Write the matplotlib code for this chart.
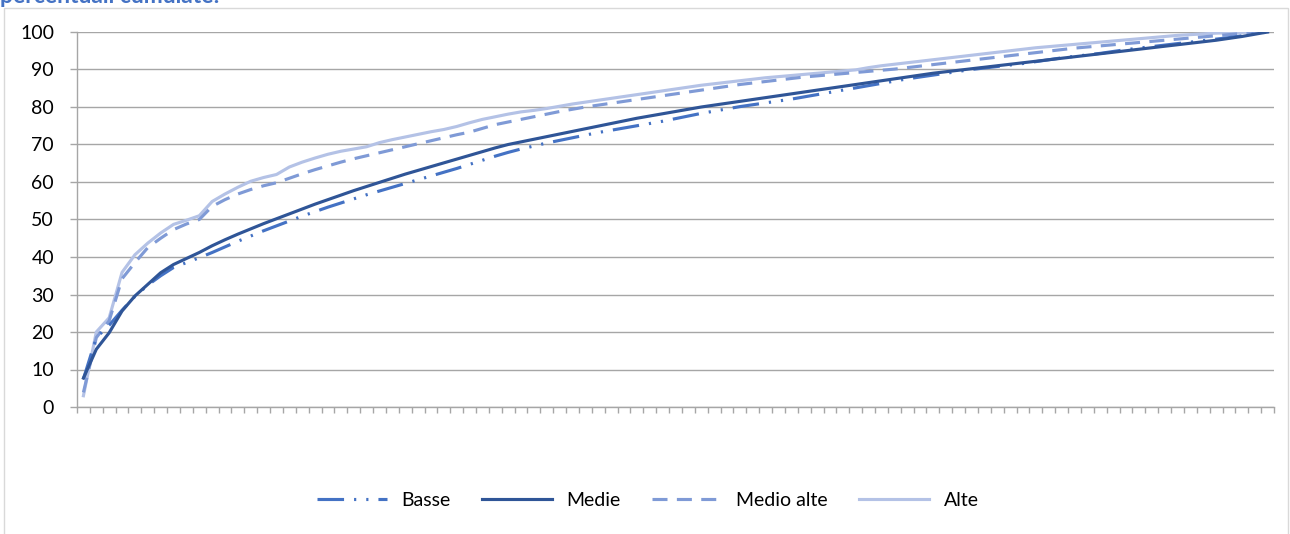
import numpy as np
import matplotlib
matplotlib.use("Agg")
import matplotlib.pyplot as plt
from matplotlib.patches import Rectangle

plt.rcParams['font.family'] = ['Lato', 'DejaVu Sans']

title = "percentuali cumulate:"
series_names = ["Basse", "Medie", "Medio alte", "Alte"]

basse = [7.5, 18.5, 21.8, 25.8, 29.5, 32.5, 35.0, 37.2, 38.5, 39.8,
         41.2, 42.7, 44.2, 45.6, 47.0, 48.3, 49.6, 50.9, 52.1, 53.3,
         54.4, 55.5, 56.6, 57.6, 58.6, 59.6, 60.6, 61.6, 62.6, 63.6,
         64.7, 65.8, 66.9, 67.9, 68.8, 69.6, 70.4, 71.1, 71.8, 72.5,
         73.2, 73.8, 74.4, 75.0, 75.6, 76.2, 76.9, 77.6, 78.3, 78.9,
         79.5, 80.1, 80.6, 81.1, 81.6, 82.1, 82.7, 83.3, 83.9, 84.5,
         85.1, 85.7, 86.3, 86.9, 87.5, 88.0, 88.5, 89.0, 89.5, 90.0,
         90.4, 90.8, 91.2, 91.6, 92.1, 92.6, 93.1, 93.5, 93.9, 94.3,
         94.8, 95.3, 95.7, 96.1, 96.5, 96.9, 97.3, 97.7, 98.1, 98.5,
         99.0, 99.5, 100.0]

medie = [7.7, 15.4, 19.8, 25.6, 29.6, 32.7, 35.8, 38.0, 39.6, 41.2,
         43.0, 44.6, 46.1, 47.5, 48.9, 50.2, 51.5, 52.8, 54.1, 55.3,
         56.5, 57.7, 58.8, 59.9, 61.0, 62.1, 63.1, 64.1, 65.1, 66.1,
         67.1, 68.1, 69.1, 70.0, 70.7, 71.4, 72.1, 72.8, 73.5, 74.2,
         74.9, 75.6, 76.3, 77.0, 77.6, 78.2, 78.8, 79.4, 80.0, 80.5,
         81.0, 81.5, 82.0, 82.5, 83.0, 83.5, 84.0, 84.5, 85.0, 85.5,
         86.0, 86.5, 87.0, 87.5, 88.0, 88.5, 89.0, 89.4, 89.8, 90.2,
         90.6, 91.0, 91.4, 91.8, 92.2, 92.6, 93.0, 93.4, 93.8, 94.2,
         94.6, 95.0, 95.4, 95.8, 96.2, 96.6, 97.0, 97.4, 97.8, 98.3,
         98.8, 99.4, 100.0]

medio_alte = [3.9, 18.5, 23.0, 34.2, 38.5, 42.5, 45.0, 47.3, 48.8, 50.0,
              53.5, 55.3, 56.8, 58.0, 59.0, 59.8, 61.0, 62.2, 63.3, 64.3,
              65.3, 66.2, 67.0, 67.8, 68.6, 69.4, 70.2, 71.0, 71.8, 72.6,
              73.3, 74.3, 75.3, 76.0, 76.7, 77.4, 78.1, 78.8, 79.4, 80.0,
              80.5, 81.0, 81.5, 82.0, 82.5, 83.0, 83.5, 84.0, 84.5, 85.0,
              85.5, 86.0, 86.4, 86.8, 87.2, 87.6, 88.0, 88.3, 88.6, 88.9,
              89.2, 89.5, 89.8, 90.1, 90.5, 90.9, 91.3, 91.7, 92.1, 92.5,
              92.9, 93.3, 93.7, 94.1, 94.5, 94.9, 95.3, 95.7, 96.0, 96.3,
              96.6, 96.9, 97.2, 97.5, 97.8, 98.1, 98.4, 98.7, 99.0, 99.3,
              99.6, 99.8, 100.0]

alte = [3.0, 20.0, 23.8, 35.9, 40.6, 43.7, 46.4, 48.7, 49.8, 51.0,
        54.8, 56.8, 58.6, 60.2, 61.2, 62.0, 64.0, 65.3, 66.4, 67.4,
        68.2, 68.8, 69.4, 70.5, 71.3, 72.0, 72.7, 73.4, 74.0, 74.8,
        75.8, 76.7, 77.4, 78.1, 78.7, 79.1, 79.6, 80.2, 80.8, 81.3,
        81.8, 82.3, 82.8, 83.3, 83.8, 84.3, 84.8, 85.3, 85.8, 86.2,
        86.6, 87.0, 87.4, 87.8, 88.1, 88.4, 88.7, 89.0, 89.3, 89.6,
        89.9, 90.5, 91.0, 91.4, 91.8, 92.2, 92.6, 93.0, 93.4, 93.8,
        94.2, 94.6, 95.0, 95.4, 95.8, 96.1, 96.4, 96.7, 97.0, 97.3,
        97.6, 97.9, 98.2, 98.5, 98.8, 99.1, 99.3, 99.5, 99.7, 99.8,
        99.9, 100.0, 100.0]

yticks = [0, 10, 20, 30, 40, 50, 60, 70, 80, 90, 100]

W, H = 1290, 534
fig = plt.figure(figsize=(W / 100, H / 100), dpi=100)
fig.patch.set_facecolor('white')

# chart border
fig.patches.append(Rectangle((4 / W, -0.01), (1288 - 4) / W, 1 - 8 / H + 0.01,
                             transform=fig.transFigure, fill=False,
                             edgecolor='#D9D9D9', linewidth=1.0))

fig.text(0.0, 1 - 3 / H, title, color='#4472C4', fontsize=16.5,
         fontweight='bold', ha='left', va='baseline')

left, right, top, bottom = 77, 1274, 32, 407
ax = fig.add_axes([left / W, 1 - bottom / H, (right - left) / W, (bottom - top) / H])

x = np.arange(len(medie))
lw = 2.25
ax.plot(x, basse, color='#4472C4', lw=lw, linestyle=(0, (8.5, 3.2, 0.7, 3.2, 0.7, 3.2)),
        label='Basse', zorder=3)
ax.plot(x, medie, color='#2F5597', lw=lw, label='Medie', zorder=4)
ax.plot(x, medio_alte, color='#7F9AD6', lw=lw, linestyle=(0, (4.8, 3.0)),
        label='Medio alte', zorder=2)
ax.plot(x, alte, color='#B4C2E6', lw=lw, label='Alte', zorder=1)

ax.set_xlim(-0.5, len(medie) - 0.5)
ax.set_ylim(0, 100)
ax.set_yticks(yticks)
ax.set_yticklabels([str(v) for v in yticks])
ax.set_xticks(np.arange(len(medie) + 1) - 0.5)
ax.set_xticklabels([])
ax.grid(axis='y', color='#A6A6A6', linewidth=1.0)
ax.set_axisbelow(True)
for s in ['top', 'right']:
    ax.spines[s].set_visible(False)
for s in ['left', 'bottom']:
    ax.spines[s].set_color('#A6A6A6')
    ax.spines[s].set_linewidth(1.0)
ax.tick_params(axis='x', length=4.5, color='#A6A6A6', width=1.0, direction='out')
ax.tick_params(axis='y', length=5, color='#A6A6A6', width=1.0, direction='out',
               labelsize=14, pad=11.5, labelcolor='black')

fig.legend(loc='center', bbox_to_anchor=(0.502, 1 - 500 / H), ncol=4,
           frameon=False, fontsize=14, handlelength=3.6, columnspacing=1.6,
           handletextpad=0.75)

fig.savefig('out.png', dpi=100)
